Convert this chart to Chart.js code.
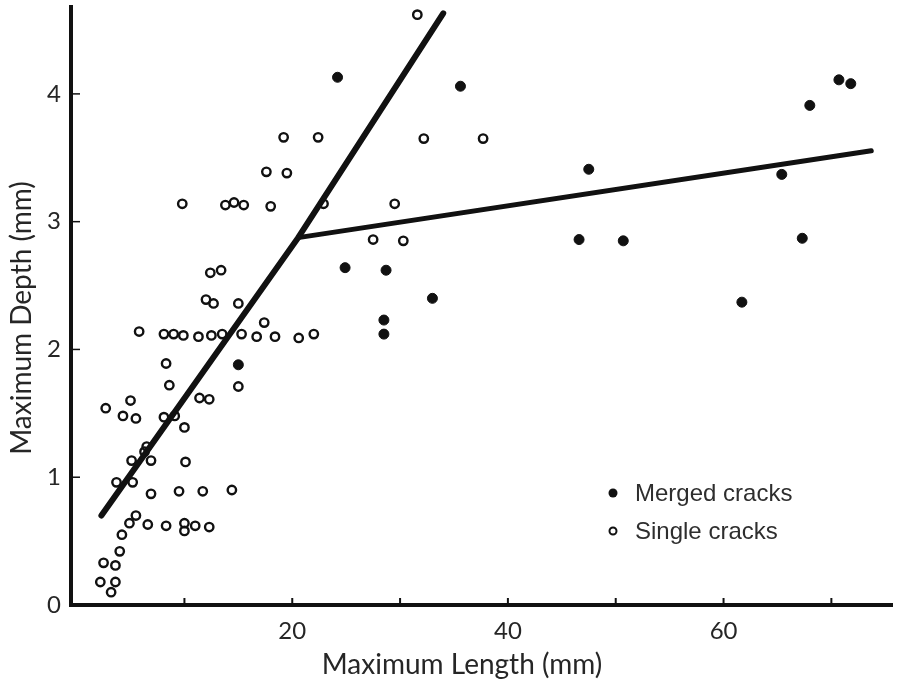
<!DOCTYPE html>
<html>
<head>
<meta charset="utf-8">
<script src="https://cdn.jsdelivr.net/npm/chart.js@4/dist/chart.umd.min.js"></script>
<style>
  html, body { margin: 0; padding: 0; background: #fff; }
  canvas { display: block; }
</style>
</head>
<body>
<canvas id="crackChart" width="899" height="684"></canvas>
<script>
// ========================== DATA ==============================
// merged cracks (filled dots)
const mergedLength = [24.2, 35.6, 47.5, 24.9, 28.7, 33.0, 28.5, 28.5, 46.6, 50.7, 70.7, 71.8, 68.0, 65.4, 67.3, 61.7, 15.0];
const mergedDepth  = [4.13, 4.06, 3.41, 2.64, 2.62, 2.40, 2.23, 2.12, 2.86, 2.85, 4.11, 4.08, 3.91, 3.37, 2.87, 2.37, 1.88];

// single cracks (open circles)
const singleLength = [
  31.6, 19.2, 22.4, 32.2, 37.7, 17.6, 19.5, 9.8, 13.8, 14.6, 15.5, 18.0, 22.9, 29.5, 27.5, 30.3,
  12.4, 13.4, 12.0, 12.7, 15.0, 5.8, 8.1, 9.0, 9.9, 11.3, 12.5, 13.5, 15.3, 16.7, 17.4, 18.4,
  20.6, 22.0, 8.3, 8.6, 15.0, 5.0, 2.7, 4.3, 5.5, 11.4, 12.3, 8.1, 9.1, 10.0, 6.5, 5.1, 6.3,
  6.9, 10.1, 3.7, 5.2, 6.9, 9.5, 11.7, 14.4, 5.5, 4.9, 6.6, 8.3, 10.0, 10.0, 11.0, 12.3, 4.2,
  4.0, 2.5, 3.6, 2.2, 3.6, 3.2
];
const singleDepth = [
  4.62, 3.66, 3.66, 3.65, 3.65, 3.39, 3.38, 3.14, 3.13, 3.15, 3.13, 3.12, 3.14, 3.14, 2.86, 2.85,
  2.60, 2.62, 2.39, 2.36, 2.36, 2.14, 2.12, 2.12, 2.11, 2.10, 2.11, 2.12, 2.12, 2.10, 2.21, 2.10,
  2.09, 2.12, 1.89, 1.72, 1.71, 1.60, 1.54, 1.48, 1.46, 1.62, 1.61, 1.47, 1.48, 1.39, 1.24, 1.13, 1.20,
  1.13, 1.12, 0.96, 0.96, 0.87, 0.89, 0.89, 0.90, 0.70, 0.64, 0.63, 0.62, 0.64, 0.58, 0.62, 0.61, 0.55,
  0.42, 0.33, 0.31, 0.18, 0.18, 0.10
];

// the two fitted lines
const steepFitLength   = [2.3, 20.55, 34.0];
const steepFitDepth    = [0.70, 2.875, 4.63];
const shallowFitLength = [20.55, 73.7];
const shallowFitDepth  = [2.875, 3.555];

// axis ticks
const xTickLabels = [20, 40, 60];
const yTickLabels = [0, 1, 2, 3, 4];
const xTickMarks = [10, 20, 30, 40, 50, 60, 70];
const yTickMarks = [1, 2, 3, 4];

const xTitle = 'Maximum Length (mm)';
const yTitle = 'Maximum Depth (mm)';

// ========================== UTIL ============================
function toPoints(xs, ys) {
  return xs.map((x, i) => ({ x: x, y: ys[i] }));
}

const INK = '#111';
const TEXT = '#262626';
const TITLE_FONT = '28px Lato, "Open Sans", sans-serif';

// small inward tick marks like the printed figure
const innerTicks = {
  id: 'innerTicks',
  afterDatasetsDraw(chart) {
    const { ctx, chartArea, scales } = chart;
    ctx.save();
    ctx.strokeStyle = INK;
    ctx.lineWidth = 2;
    xTickMarks.forEach(v => {
      const px = scales.x.getPixelForValue(v);
      ctx.beginPath();
      ctx.moveTo(px, chartArea.bottom);
      ctx.lineTo(px, chartArea.bottom - 7);
      ctx.stroke();
    });
    ctx.lineWidth = 1.5;
    yTickMarks.forEach(v => {
      const py = scales.y.getPixelForValue(v);
      ctx.beginPath();
      ctx.moveTo(chartArea.left, py);
      ctx.lineTo(chartArea.left + 9, py);
      ctx.stroke();
    });
    ctx.restore();
  }
};

// axis titles sit a little off the scale centres in the original
const axisTitles = {
  id: 'axisTitles',
  afterDraw(chart) {
    const { ctx } = chart;
    ctx.save();
    ctx.font = TITLE_FONT;
    ctx.fillStyle = TEXT;
    ctx.textAlign = 'center';
    ctx.textBaseline = 'middle';
    ctx.fillText(xTitle, 462, 665);
    ctx.translate(22, 318);
    ctx.rotate(-Math.PI / 2);
    ctx.fillText(yTitle, 0, 0);
    ctx.restore();
  }
};

// legend sits inside the plot, lower right
const cornerLegend = {
  id: 'cornerLegend',
  afterDraw(chart) {
    const { ctx } = chart;
    const rows = chart.data.datasets.filter(d => d.inLegend);
    ctx.save();
    ctx.font = '24px "Liberation Sans", Arial, sans-serif';
    ctx.textBaseline = 'middle';
    rows.forEach((d, i) => {
      const y = 493 + i * 38;
      ctx.beginPath();
      ctx.arc(613, y, d.legendDot, 0, Math.PI * 2);
      if (d.filled) {
        ctx.fillStyle = INK;
        ctx.fill();
      } else {
        ctx.lineWidth = 2;
        ctx.strokeStyle = INK;
        ctx.stroke();
      }
      ctx.fillStyle = '#2e2e2e';
      ctx.fillText(d.label, 635, y + 1);
    });
    ctx.restore();
  }
};

// ========================== CHART =============================
const tickFont = { family: 'Lato, "Open Sans", sans-serif', size: 24 };

new Chart(document.getElementById('crackChart'), {
  type: 'scatter',
  data: {
    datasets: [
      {
        label: 'Steep fit',
        data: toPoints(steepFitLength, steepFitDepth),
        showLine: true,
        borderColor: INK,
        borderWidth: 6,
        borderCapStyle: 'round',
        pointRadius: 0,
        order: 0
      },
      {
        label: 'Shallow fit',
        data: toPoints(shallowFitLength, shallowFitDepth),
        showLine: true,
        borderColor: INK,
        borderWidth: 5,
        borderCapStyle: 'round',
        pointRadius: 0,
        order: 0
      },
      {
        label: 'Merged cracks',
        data: toPoints(mergedLength, mergedDepth),
        pointRadius: 5,
        pointBackgroundColor: INK,
        pointBorderColor: INK,
        pointBorderWidth: 1,
        inLegend: true,
        filled: true,
        legendDot: 4.5,
        order: 1
      },
      {
        label: 'Single cracks',
        data: toPoints(singleLength, singleDepth),
        pointRadius: 4.2,
        pointBackgroundColor: 'rgba(255,255,255,0)',
        pointBorderColor: INK,
        pointBorderWidth: 2.4,
        inLegend: true,
        filled: false,
        legendDot: 3.5,
        order: 1
      }
    ]
  },
  options: {
    responsive: false,
    animation: false,
    layout: { padding: { top: 7, right: 0, bottom: 0, left: 0 } },
    plugins: {
      legend: { display: false },
      tooltip: { enabled: false }
    },
    scales: {
      x: {
        type: 'linear',
        min: -0.52,
        max: 75.66,
        afterBuildTicks: s => { s.ticks = xTickLabels.map(v => ({ value: v })); },
        afterFit: s => { s.height = 79; s.paddingLeft = 0; s.paddingRight = 0; },
        grid: { drawOnChartArea: false, drawTicks: false },
        border: { color: INK, width: 4 },
        ticks: { color: TEXT, font: tickFont, padding: 12, maxRotation: 0 }
      },
      y: {
        type: 'linear',
        min: 0,
        max: 4.68,
        afterBuildTicks: s => { s.ticks = yTickLabels.map(v => ({ value: v })); },
        afterFit: s => { s.width = 71; s.paddingTop = 0; s.paddingBottom = 0; },
        grid: { drawOnChartArea: false, drawTicks: false },
        border: { color: INK, width: 4 },
        ticks: { color: TEXT, font: tickFont, padding: 10 }
      }
    }
  },
  plugins: [innerTicks, axisTitles, cornerLegend]
});
</script>
</body>
</html>
